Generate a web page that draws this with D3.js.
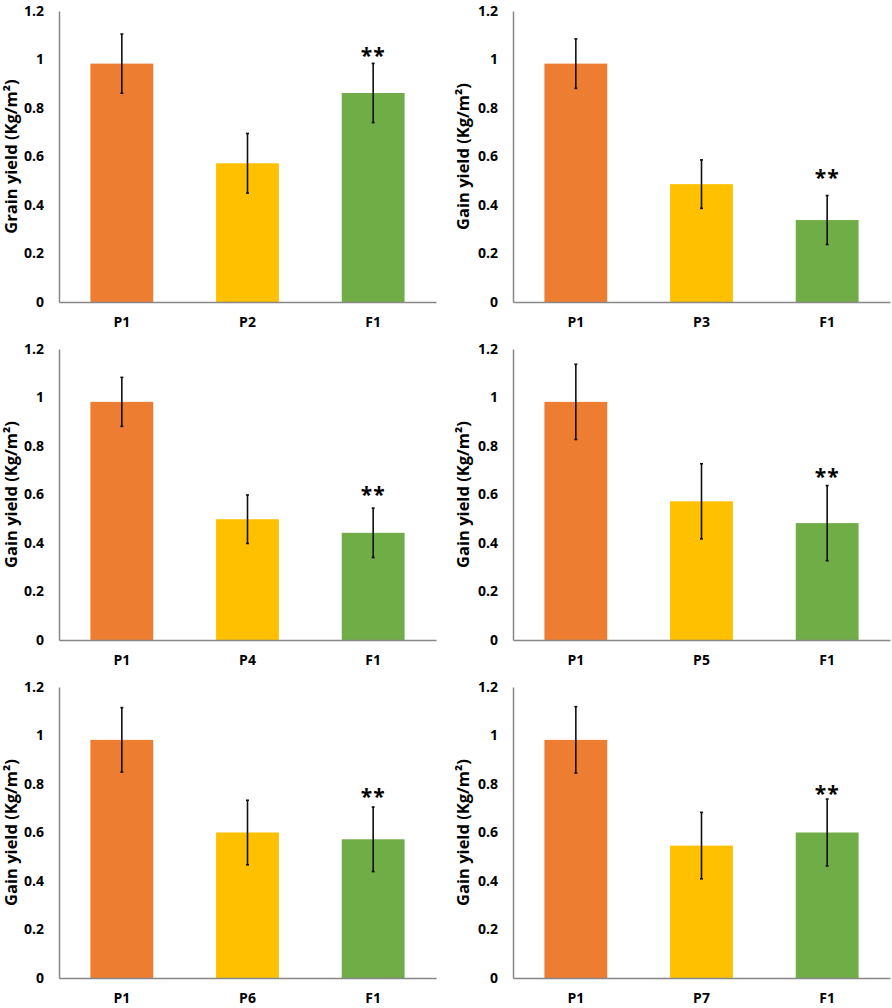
<!DOCTYPE html>
<html>
<head>
<meta charset="utf-8">
<script src="https://cdn.jsdelivr.net/npm/d3@7"></script>
<style>
  body { margin: 0; background: #fff; }
  svg { display: block; }
  text { font-family: "Open Sans", sans-serif; font-weight: bold; fill: #000; }
</style>
</head>
<body>
<svg id="chart" width="892" height="1008"></svg>
<script>
// Values, one entry per panel (row by row).
const categories = [
    ["P1", "P2", "F1"],
    ["P1", "P3", "F1"],
    ["P1", "P4", "F1"],
    ["P1", "P5", "F1"],
    ["P1", "P6", "F1"],
    ["P1", "P7", "F1"]
];
const means = [
    [0.983, 0.572, 0.862],
    [0.983, 0.486, 0.338],
    [0.982, 0.498, 0.442],
    [0.982, 0.572, 0.482],
    [0.982, 0.600, 0.572],
    [0.982, 0.546, 0.600]
];
const errors = [
    [0.122, 0.123, 0.122],
    [0.102, 0.100, 0.101],
    [0.101, 0.100, 0.102],
    [0.155, 0.155, 0.155],
    [0.133, 0.133, 0.133],
    [0.137, 0.137, 0.138]
];
// height (in y units) of the "**" mark over F1
const starValues = [1.033, 0.530, 0.618, 0.693, 0.768, 0.779];
const yTitles = [
    "Grain yield (Kg/m²)",
    "Gain yield (Kg/m²)",
    "Gain yield (Kg/m²)",
    "Gain yield (Kg/m²)",
    "Gain yield (Kg/m²)",
    "Gain yield (Kg/m²)"
];
const yTicks = [0, 0.2, 0.4, 0.6, 0.8, 1, 1.2];
const barColors = ["#ED7D31", "#FFC000", "#70AD47"];

let svg = d3.select("#chart");

/* Panel geometry */
let colX = [59, 513];       // y axis position of each column
let titleX = [12, 464];     // centre of the rotated y title
let rowY = [302, 640, 978]; // zero line of each row
let plotWidth = 377;
let plotHeight = 291;

for (let i = 0; i < 6; i++) {
    drawPanel(i % 2, Math.floor(i / 2), i);
}

function drawPanel(col, row, i) {
    let ox = colX[col];
    let oy = rowY[row];
    let g = svg.append("g")
        .attr("transform", "translate(" + ox + "," + (oy - plotHeight) + ")");

    let data = categories[i].map((c, j) => ({cat: c, v: means[i][j], e: errors[i][j], color: barColors[j]}));

    let xScale = d3.scaleBand()
        .domain(categories[i])
        .range([0, plotWidth])
        .paddingInner(0.5)
        .paddingOuter(0.25);

    let yScale = d3.scaleLinear()
        .domain([0, 1.2])
        .range([plotHeight, 0]);

    let cx = d => xScale(d.cat) + xScale.bandwidth() / 2;

    // bars
    g.selectAll("rect.bar")
        .data(data).enter()
        .append("rect")
        .attr("class", "bar")
        .attr("x", d => xScale(d.cat))
        .attr("y", d => yScale(d.v))
        .attr("width", xScale.bandwidth())
        .attr("height", d => yScale(0) - yScale(d.v))
        .attr("fill", d => d.color);

    // error bars
    let eb = g.selectAll("g.err")
        .data(data).enter()
        .append("g")
        .attr("class", "err")
        .attr("stroke", "#111")
        .attr("stroke-width", 1.6);
    eb.append("line")
        .attr("x1", cx)
        .attr("x2", cx)
        .attr("y1", d => yScale(d.v + d.e))
        .attr("y2", d => yScale(d.v - d.e));
    eb.selectAll("line.cap")
        .data(d => [d.v + d.e, d.v - d.e].map(y => ({x: cx(d), y: y})))
        .enter()
        .append("line")
        .attr("class", "cap")
        .attr("x1", d => d.x - 1.5)
        .attr("x2", d => d.x + 1.5)
        .attr("y1", d => yScale(d.y))
        .attr("y2", d => yScale(d.y));

    // significance mark over F1
    let starSize = 21;
    g.append("text")
        .attr("x", xScale("F1") + xScale.bandwidth() / 2)
        .attr("y", yScale(starValues[i]) + starSize * 0.57)
        .attr("text-anchor", "middle")
        .style("font-size", starSize + "px")
        .style("letter-spacing", "1px")
        .text("**");

    // y axis
    let yAxis = g.append("g")
        .call(d3.axisLeft(yScale)
            .tickValues(yTicks)
            .tickFormat(d3.format("~g"))
            .tickSize(0)
            .tickPadding(15));
    // x axis
    let xAxis = g.append("g")
        .attr("transform", "translate(0," + plotHeight + ")")
        .call(d3.axisBottom(xScale)
            .tickSize(0)
            .tickPadding(15));

    [yAxis, xAxis].forEach(a => {
        a.select(".domain").attr("stroke", "#878787").attr("stroke-width", 1.5);
        a.selectAll("text")
            .style("font-size", "14px")
            .style("font-family", "'Open Sans', sans-serif")
            .attr("font-weight", "bold")
            .attr("fill", "#000");
    });

    // y axis title
    g.append("text")
        .attr("transform", "translate(" + (titleX[col] - ox) + "," + (plotHeight / 2) + ") rotate(-90)")
        .attr("dy", "0.32em")
        .attr("text-anchor", "middle")
        .style("font-size", "16.5px")
        .text(yTitles[i]);
}
</script>
</body>
</html>
